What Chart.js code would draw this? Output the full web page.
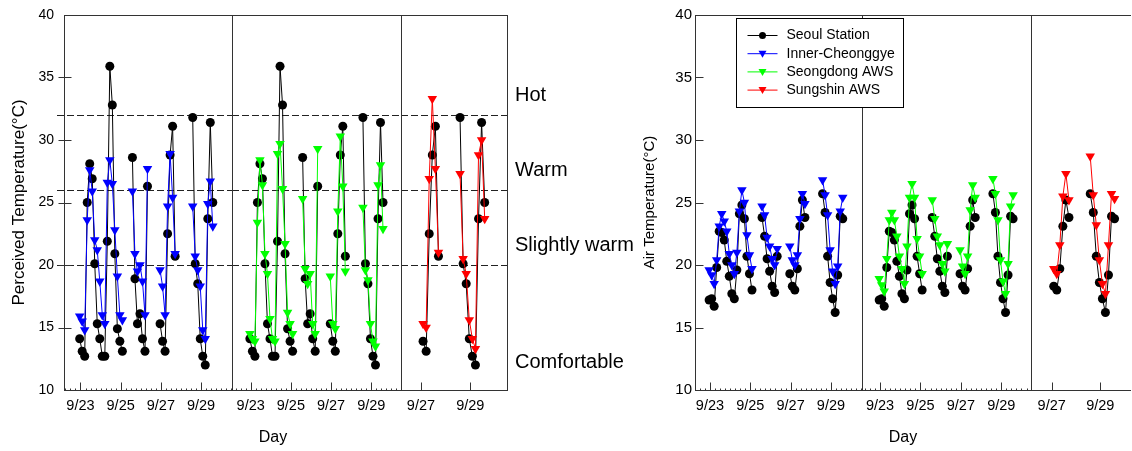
<!DOCTYPE html>
<html>
<head>
<meta charset="utf-8">
<script src="https://cdn.jsdelivr.net/npm/chart.js@4.4.1/dist/chart.umd.min.js"></script>
<style>
  html, body { margin: 0; padding: 0; background: #fff; }
  #wrap { position: relative; width: 1132px; height: 451px; overflow: hidden; font-family: 'Liberation Sans', Arial, sans-serif; }
  #wrap canvas { position: absolute; top: 0; }
  .day { position: absolute; top: 437px; font-size: 16px; color: #000; transform: translate(-50%, -50%); }
</style>
</head>
<body>
<div id="wrap">
  <canvas id="l1"></canvas>
  <canvas id="l2"></canvas>
  <canvas id="l3"></canvas>
  <canvas id="r2"></canvas>
  <canvas id="r3"></canvas>
  <canvas id="r1"></canvas>
  <div class="day" style="left:273px">Day</div>
  <div class="day" style="left:903px">Day</div>
</div>
<script>
// 3-hourly readings, slot 0 = first reading shown (late on 9/22)
const firstSlotDay = 22.96;
const slotHours = 3;
const slots = [0, 1, 2, 3, 4, 5, 6, 7, 8, 9, 10, 11, 12, 13, 14, 15, 16, 17,
               21, 22, 23, 24, 25, 26, 27,
               32, 33, 34, 35, 36, 37, 38,
               45, 46, 47, 48, 49, 50, 51, 52, 53];
const lateSlots = [33, 34, 35, 36, 37, 38, 45, 46, 47, 48, 49, 50, 51, 52, 53];

const tickDays = [23, 25, 27, 29];
const tickDaysLate = [27, 29];

const seriesNames = ['Seoul Station', 'Inner-Cheonggye', 'Seongdong AWS', 'Sungshin AWS'];
const seriesColors = ['#000000', '#0000ff', '#00ff00', '#ff0000'];

// perceived temperature
const seoulPT = [14.1, 13.1, 12.7, 25.0, 28.1, 26.9, 20.1, 15.3, 14.1, 12.7, 12.7, 21.9, 35.9, 32.8, 20.9, 14.9, 13.9, 13.1,
                 28.6, 18.9, 15.3, 16.1, 14.1, 13.1, 26.3,
                 15.3, 13.9, 13.1, 22.5, 28.8, 31.1, 20.7,
                 31.8, 20.1, 18.5, 14.1, 12.7, 12.0, 23.7, 31.4, 25.0];
const innerPT = [15.9, 15.5, 14.8, 23.6, 27.6, 25.9, 22.0, 21.2, 18.7, 16.0, 15.3, 26.6, 28.4, 26.5, 22.8, 19.1, 16.0, 15.6,
                 25.9, 20.9, 19.5, 20.0, 18.7, 16.0, 27.7,
                 19.6, 18.3, 16.0, 24.7, 28.9, 25.4, 20.9,
                 24.7, 20.7, 19.6, 18.3, 14.8, 14.1, 24.9, 26.7, 23.1];
const seongdongPT = [14.5, 14.1, 13.9, 23.4, 28.4, 26.4, 20.9, 19.3, 15.7, 14.1, 13.9, 28.9, 29.7, 26.1, 21.7, 16.2, 15.3, 14.5,
                     25.3, 19.7, 18.5, 19.3, 15.3, 14.5, 29.3,
                     19.1, 15.3, 14.9, 24.3, 30.3, 26.3, 19.5,
                     24.6, 19.6, 18.8, 15.3, 13.9, 13.5, 26.4, 28.0, 22.9];
const sungshinPT = [15.3, 15.0, 26.9, 33.3, 27.7, 21.0, 27.3, 20.5, 19.3, 15.6, 14.1, 13.3, 28.8, 30.0, 23.7];

// air temperature
const seoulAT = [17.2, 17.3, 16.7, 19.8, 22.7, 22.6, 22.0, 20.3, 19.1, 17.7, 17.3, 19.6, 24.1, 24.8, 23.7, 20.7, 19.3, 18.0,
                 23.8, 22.3, 20.5, 19.5, 18.3, 17.8, 20.7,
                 19.3, 18.3, 18.0, 19.7, 23.1, 25.2, 23.8,
                 25.7, 24.2, 20.7, 18.6, 17.3, 16.2, 19.2, 23.9, 23.7];
const innerAT = [19.6, 19.2, 18.5, 20.4, 23.1, 24.1, 23.5, 22.7, 20.9, 20.0, 19.3, 21.0, 24.3, 26.0, 25.0, 22.4, 20.8, 19.7,
                 24.7, 24.0, 22.2, 21.5, 20.5, 20.0, 21.3,
                 21.5, 20.4, 20.0, 20.8, 23.7, 25.7, 24.9,
                 26.8, 25.6, 24.0, 21.2, 19.5, 18.5, 19.9, 24.3, 25.4];
const seongdongAT = [18.9, 18.4, 17.9, 20.5, 23.6, 24.2, 23.6, 22.3, 20.7, 19.7, 18.5, 21.5, 25.4, 26.5, 25.4, 22.1, 20.7, 19.3,
                     25.2, 23.7, 22.3, 21.6, 20.1, 19.5, 21.7,
                     21.2, 19.9, 19.3, 20.7, 24.4, 26.4, 25.4,
                     26.9, 25.7, 23.6, 20.4, 18.7, 17.7, 20.1, 24.7, 25.6];
const sungshinAT = [19.7, 19.3, 21.6, 25.5, 27.3, 25.2, 28.7, 25.6, 23.2, 20.4, 18.5, 17.7, 21.6, 25.7, 25.3];

// thermal comfort classes
const comfortBounds = [20, 26, 32];
const comfortNames = ['Hot', 'Warm', 'Slightly warm', 'Comfortable'];
const comfortLabelAt = [33.6, 27.6, 21.6, 12.2];

Chart.defaults.font.family = "'Liberation Sans', Arial, sans-serif";
Chart.defaults.color = '#000';

function slotDay(s) {
    return firstSlotDay + s * slotHours / 24;
}

function toPoints(slotList, values) {
    const pts = [];
    slotList.forEach((s, i) => {
        if (i > 0 && s - slotList[i - 1] > 1) {
            pts.push({ x: slotDay(s - 0.5), y: null });   // break the line across missing readings
        }
        pts.push({ x: slotDay(s), y: values[i] });
    });
    return pts;
}

function pick(values, subset) {
    return subset.map(s => values[slots.indexOf(s)]);
}

function seriesDataset(idx, slotList, values) {
    const circle = idx === 0;
    return {
        label: seriesNames[idx],
        data: toPoints(slotList, values),
        borderColor: seriesColors[idx],
        backgroundColor: seriesColors[idx],
        borderWidth: 1,
        pointStyle: circle ? 'circle' : 'triangle',
        pointRotation: circle ? 0 : 180,
        pointRadius: circle ? 4.5 : 5.5,
        pointBorderWidth: 0,
        tension: 0,
        spanGaps: false
    };
}

function hline(ctx, x1, x2, y) {
    ctx.beginPath();
    ctx.moveTo(x1, y);
    ctx.lineTo(x2, y);
    ctx.stroke();
}

function vline(ctx, x, y1, y2) {
    ctx.beginPath();
    ctx.moveTo(x, y1);
    ctx.lineTo(x, y2);
    ctx.stroke();
}

const framePlugin = {
    id: 'frame',
    beforeDatasetsDraw(chart, args, o) {
        if (!o.bands) return;
        const { ctx, chartArea: a, scales: { y } } = chart;
        ctx.save();
        ctx.strokeStyle = '#222';
        ctx.lineWidth = 1;
        ctx.setLineDash([7, 3]);
        comfortBounds.forEach(v => {
            const py = Math.round(y.getPixelForValue(v)) + 0.5;
            hline(ctx, a.left - (o.bandLead || 0), a.right, py);
        });
        ctx.restore();
    },
    afterDatasetsDraw(chart, args, o) {
        const { ctx, chartArea: a, scales: { x, y } } = chart;
        const L = Math.round(a.left) + 0.5;
        const R = Math.round(a.right) + 0.5;
        const T = Math.round(a.top) + 0.5;
        const B = Math.round(a.bottom) + 0.5;
        ctx.save();
        ctx.strokeStyle = '#333';
        ctx.lineWidth = 1;
        ctx.setLineDash([]);
        hline(ctx, L - 0.5, R + 0.5, T);
        hline(ctx, L - 0.5, R + 0.5, B);
        vline(ctx, L, T, B);
        if (o.right !== false) vline(ctx, R, T, B);

        // day ticks, pointing into the plot
        o.majors.forEach(v => {
            const px = Math.round(x.getPixelForValue(v)) + 0.5;
            vline(ctx, px, B, B - 8);
        });
        if (o.minor) {
            for (let v = Math.ceil(x.min * 4) / 4; v < x.max; v += 0.25) {
                if (o.majors.includes(v)) continue;
                const px = Math.round(x.getPixelForValue(v)) + 0.5;
                vline(ctx, px, B, B - 2);
            }
        }

        // value ticks on the left axis
        if (o.yTicks) {
            y.ticks.forEach(t => {
                if (t.value <= y.min || t.value >= y.max) return;
                const py = Math.round(y.getPixelForValue(t.value)) + 0.5;
                hline(ctx, L - o.yTicks[0], L + o.yTicks[1], py);
            });
        }

        if (o.labels) {
            ctx.fillStyle = '#000';
            ctx.font = "20px 'Liberation Sans', Arial, sans-serif";
            ctx.textAlign = 'left';
            ctx.textBaseline = 'middle';
            comfortNames.forEach((name, i) => {
                ctx.fillText(name, a.right + 8, y.getPixelForValue(comfortLabelAt[i]));
            });
        }

        if (o.legend) {
            const bx = Math.round(a.left) + 41.5;
            const by = 18.5;
            ctx.fillStyle = '#fff';
            ctx.fillRect(bx, by, 167, 89);
            ctx.strokeStyle = '#000';
            ctx.strokeRect(bx, by, 167, 89);
            ctx.font = "14px 'Liberation Sans', Arial, sans-serif";
            ctx.textAlign = 'left';
            ctx.textBaseline = 'middle';
            seriesNames.forEach((name, i) => {
                const ry = by + 17 + i * 18.2;
                ctx.strokeStyle = seriesColors[i];
                ctx.fillStyle = seriesColors[i];
                hline(ctx, bx + 11, bx + 41, ry);
                ctx.beginPath();
                if (i === 0) {
                    ctx.arc(bx + 26, ry, 3.5, 0, Math.PI * 2);
                } else {
                    ctx.moveTo(bx + 22, ry - 3);
                    ctx.lineTo(bx + 30, ry - 3);
                    ctx.lineTo(bx + 26, ry + 4);
                    ctx.closePath();
                }
                ctx.fill();
                ctx.fillStyle = '#000';
                ctx.fillText(name, bx + 50, ry);
            });
        }
        ctx.restore();
    }
};

function makeChart(id, c) {
    const canvas = document.getElementById(id);
    canvas.width = c.width;
    canvas.height = 451;
    canvas.style.left = c.left + 'px';
    canvas.style.width = c.width + 'px';
    canvas.style.height = '451px';

    const yAxis = c.yAxis;
    return new Chart(canvas.getContext('2d'), {
        type: 'line',
        data: { datasets: c.datasets },
        plugins: [framePlugin],
        options: {
            responsive: false,
            animation: false,
            devicePixelRatio: 1,
            events: [],
            layout: {
                autoPadding: false,
                padding: {
                    left: yAxis ? 0 : c.areaLeft - c.left,
                    right: c.left + c.width - c.areaRight,
                    top: 15,
                    bottom: 0
                }
            },
            scales: {
                x: {
                    type: 'linear',
                    min: c.xMin,
                    max: c.xMax,
                    grid: { display: false, drawTicks: false },
                    border: { display: false },
                    afterBuildTicks: scale => {
                        scale.ticks = c.majors.map(v => ({ value: v }));
                    },
                    afterFit: scale => {
                        scale.height = 451 - 390;
                        scale.paddingLeft = 0;
                        scale.paddingRight = 0;
                    },
                    ticks: {
                        autoSkip: false,
                        maxRotation: 0,
                        padding: 7,
                        font: { size: 14.5 },
                        callback: v => '9/' + v
                    }
                },
                y: {
                    display: !!yAxis,
                    min: 10,
                    max: 40,
                    grid: { display: false, drawTicks: false },
                    border: { display: false },
                    afterFit: scale => {
                        if (yAxis) scale.width = c.areaLeft - c.left;
                        scale.paddingTop = 0;
                        scale.paddingBottom = 0;
                    },
                    ticks: {
                        stepSize: 5,
                        padding: yAxis ? yAxis.pad : 0,
                        font: { size: yAxis ? yAxis.tickSize : 12 }
                    },
                    title: {
                        display: !!yAxis,
                        text: yAxis ? yAxis.title : '',
                        font: { size: yAxis ? yAxis.titleSize : 12 },
                        padding: { top: yAxis ? yAxis.titlePad : 0, bottom: 0 }
                    }
                }
            },
            plugins: {
                legend: { display: false },
                tooltip: { enabled: false },
                frame: {
                    majors: c.majors,
                    minor: c.minor,
                    bands: c.bands,
                    bandLead: c.bandLead,
                    labels: c.labels,
                    legend: c.legend,
                    right: c.right,
                    yTicks: c.yTicks
                }
            }
        }
    });
}

// left figure: perceived temperature
makeChart('l1', {
    left: 0, width: 234, areaLeft: 64, areaRight: 232,
    xMin: 22.18, xMax: 30.54, majors: tickDays, minor: true,
    bands: true, bandLead: 7, yTicks: [6, 7],
    yAxis: { title: 'Perceived Temperature(°C)', titleSize: 17, titlePad: 9, tickSize: 14, pad: 10 },
    datasets: [seriesDataset(1, slots, innerPT), seriesDataset(0, slots, seoulPT)]
});
makeChart('l2', {
    left: 230, width: 174, areaLeft: 232, areaRight: 401,
    xMin: 22.07, xMax: 30.48, majors: tickDays, minor: true, bands: true,
    datasets: [seriesDataset(2, slots, seongdongPT), seriesDataset(0, slots, seoulPT)]
});
makeChart('l3', {
    left: 399, width: 241, areaLeft: 401, areaRight: 507,
    xMin: 26.19, xMax: 30.49, majors: tickDaysLate, minor: false, bands: true, labels: true,
    datasets: [seriesDataset(3, lateSlots, sungshinPT), seriesDataset(0, lateSlots, pick(seoulPT, lateSlots))]
});

// right figure: air temperature
makeChart('r2', {
    left: 860, width: 174, areaLeft: 862, areaRight: 1031,
    xMin: 22.11, xMax: 30.47, majors: tickDays, minor: true,
    datasets: [seriesDataset(2, slots, seongdongAT), seriesDataset(0, slots, seoulAT)]
});
makeChart('r3', {
    left: 1029, width: 103, areaLeft: 1031, areaRight: 1130,
    xMin: 26.15, xMax: 30.22, majors: tickDaysLate, minor: false, right: false,
    datasets: [seriesDataset(3, lateSlots, sungshinAT), seriesDataset(0, lateSlots, pick(seoulAT, lateSlots))]
});
makeChart('r1', {
    left: 636, width: 274, areaLeft: 695, areaRight: 862,
    xMin: 22.26, xMax: 30.54, majors: tickDays, minor: true, legend: true, yTicks: [0, 8],
    yAxis: { title: 'Air Temperature(°C)', titleSize: 15, titlePad: 5, tickSize: 15, pad: 3 },
    datasets: [seriesDataset(1, slots, innerAT), seriesDataset(0, slots, seoulAT)]
});
</script>
</body>
</html>
